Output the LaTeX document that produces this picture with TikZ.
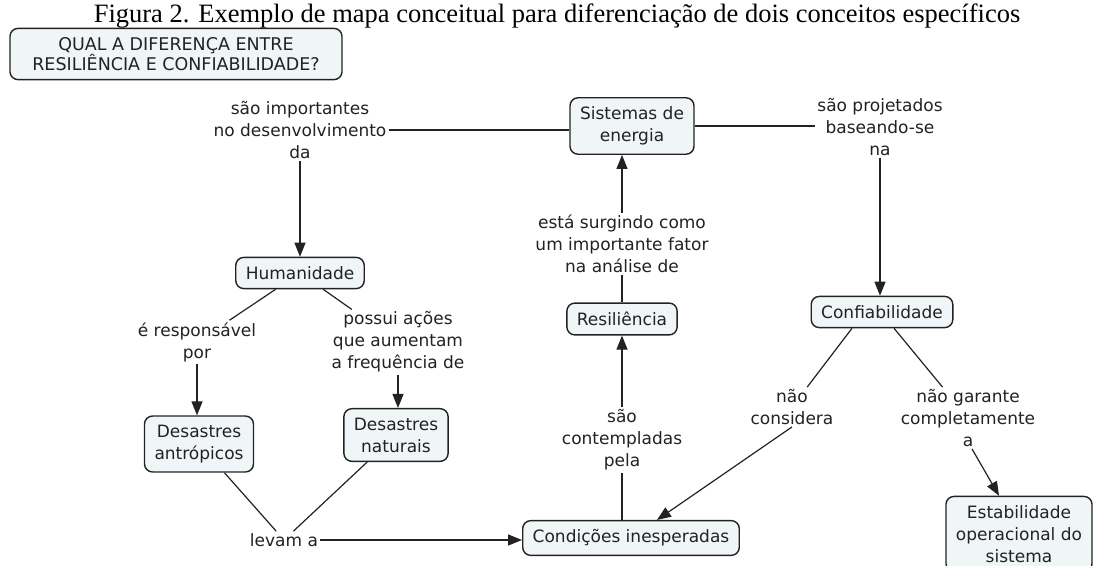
\documentclass[tikz,border=0pt]{standalone}
\usepackage{fontspec}
\setmainfont{DejaVu Sans}
\newfontfamily\capfont{Liberation Serif}
\usetikzlibrary{arrows.meta}
\definecolor{boxfill}{HTML}{F0F5F7}
\definecolor{inkgray}{HTML}{222222}
\newcommand{\mapfont}{\fontsize{17}{22}\selectfont}
\tikzset{
  concept/.style={draw=inkgray, fill=boxfill, rounded corners=8pt, line width=1.4pt,
    align=center, inner xsep=10pt, inner ysep=9pt, font=\mapfont, text=inkgray},
  linkword/.style={align=center, inner sep=2pt, font=\mapfont, fill=white, text=inkgray},
  link/.style={line width=1.2pt, draw=inkgray},
  arrowlink/.style={link, -{Triangle[length=14pt,width=11pt]}},
}
\begin{document}
\begin{tikzpicture}[x=1pt,y=-1pt]
\useasboundingbox (0,0) rectangle (1095,565);
\node[font=\capfont\fontsize{26.5}{30}\selectfont, anchor=base] (caption) at (557,22)
  {Figura 2. Exemplo de mapa conceitual para diferenciação de dois conceitos específicos};
\node[concept, font=\fontsize{17.5}{20}\selectfont, minimum width=332pt, minimum height=46pt] (question) at (176,54)
  {QUAL A DIFERENÇA ENTRE\\RESILIÊNCIA E CONFIABILIDADE?};
% concepts
\node[concept] (sistemas) at (632,126) {Sistemas de\\energia};
\node[concept] (humanidade) at (300,273) {Humanidade};
\node[concept] (antropicos) at (199,444) {Desastres\\antrópicos};
\node[concept] (naturais) at (396,435) {Desastres\\naturais};
\node[concept] (condicoes) at (631,538) {Condições inesperadas};
\node[concept] (resiliencia) at (622,319) {Resiliência};
\node[concept] (confiab) at (882,312) {Confiabilidade};
\node[concept] (estab) at (1019,534) {Estabilidade\\operacional do\\sistema};
% linking phrases
\node[linkword] (desenv) at (300,130) {são importantes\\no desenvolvimento\\da};
\node[linkword] (projet) at (880,127) {são projetados\\baseando-se\\na};
\node[linkword] (surgindo) at (622,244) {está surgindo como\\um importante fator\\na análise de};
\node[linkword] (respons) at (197,342) {é responsável\\por};
\node[linkword] (acoes) at (398,342) {possui ações\\que aumentam\\a frequência de};
\node[linkword] (levam) at (284,540) {levam a};
\node[linkword] (contempl) at (622,440) {são\\contempladas\\pela};
\node[linkword] (naocons) at (792,407) {não\\considera};
\node[linkword] (naogar) at (968,418) {não garante\\completamente\\a};
% plain lines
\draw[link] (desenv.east) -- (desenv.east -| sistemas.west);
\draw[link] (sistemas.east) -- (sistemas.east -| projet.west);
\draw[link] (humanidade) -- (respons);
\draw[link] (humanidade) -- (acoes);
\draw[link] (antropicos) -- (levam);
\draw[link] (naturais) -- (levam);
\draw[link] (resiliencia.north) -- (surgindo.south);
\draw[link] (condicoes.north -| contempl.south) -- (contempl.south);
\draw[link] ([xshift=-30pt]confiab.south) -- (naocons);
\draw[link] ([xshift=12pt]confiab.south) -- (naogar);
% arrows
\draw[arrowlink] (desenv.south) -- (humanidade.north);
\draw[arrowlink] (projet.south) -- (projet.south |- confiab.north);
\draw[arrowlink] (surgindo.north) -- (surgindo.north |- sistemas.south);
\draw[arrowlink] (contempl.north) -- (resiliencia.south);
\draw[arrowlink] (respons.south) -- (respons.south |- antropicos.north);
\draw[arrowlink] (acoes.south) -- (acoes.south |- naturais.north);
\draw[arrowlink] (levam.east) -- (levam.east -| condicoes.west);
\draw[arrowlink] (naocons.south) -- ([xshift=26pt]condicoes.north);
\draw[arrowlink] ([xshift=4pt]naogar.south) -- ([xshift=-20pt]estab.north);
\end{tikzpicture}
\end{document}
